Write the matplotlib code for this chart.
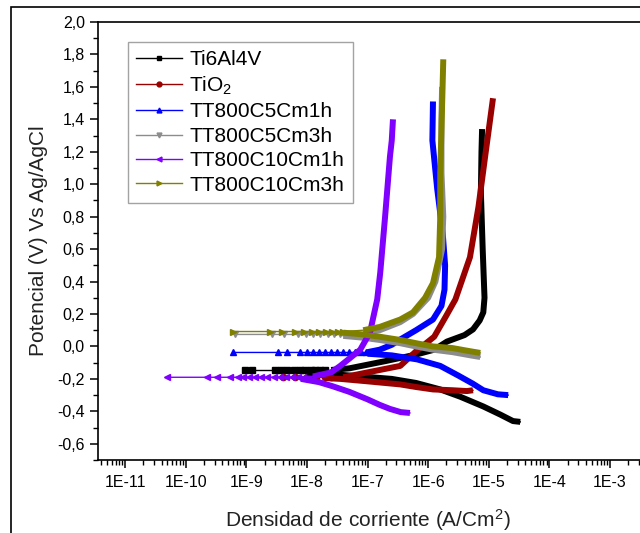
import numpy as np
import matplotlib
matplotlib.use("Agg")
import matplotlib.pyplot as plt
from matplotlib.lines import Line2D
from matplotlib.patches import Rectangle
from matplotlib.ticker import FixedLocator, FuncFormatter, MultipleLocator

plt.rcParams['font.family'] = ['Liberation Sans', 'DejaVu Sans']
plt.rcParams['mathtext.fontset'] = 'custom'
plt.rcParams['mathtext.rm'] = 'Liberation Sans'
plt.rcParams['mathtext.it'] = 'Liberation Sans:italic'

# ---------------- data (log10 of current density, potential in V) ----------------
labels = ["Ti6Al4V", "TiO$_2$", "TT800C5Cm1h", "TT800C5Cm3h", "TT800C10Cm1h", "TT800C10Cm3h"]
colors = ["#000000", "#990000", "#0000FF", "#8C8C8C", "#8000FF", "#808000"]
markers = ["s", "o", "^", "v", "<", ">"]

# Ti6Al4V
ti_cath_logi = [-4.48, -4.60, -4.81, -5.09, -5.47, -5.80, -6.20, -6.60, -7.10, -7.60, -8.00]
ti_cath_e    = [-0.465, -0.46, -0.42, -0.37, -0.31, -0.265, -0.225, -0.20, -0.185, -0.17, -0.16]
ti_corr_logi = [-9.02, -8.90, -8.52, -8.42, -8.32, -8.22, -8.12, -8.03, -7.94, -7.86, -7.78, -7.70]
ti_corr_e    = [-0.145] * 12
ti_anod_logi = [-7.60, -7.30, -6.70, -6.20, -5.90, -5.69, -5.40, -5.26, -5.15, -5.09, -5.07, -5.10, -5.13, -5.12, -5.11]
ti_anod_e    = [-0.145, -0.135, -0.09, -0.05, -0.02, 0.03, 0.07, 0.105, 0.16, 0.21, 0.30, 0.60, 0.95, 1.20, 1.34]

# TiO2
tio_cath_logi = [-5.26, -5.36, -5.60, -5.92, -6.20, -6.46, -7.00, -7.45, -7.70]
tio_cath_e    = [-0.27, -0.275, -0.27, -0.265, -0.25, -0.234, -0.215, -0.20, -0.195]
tio_corr_logi = [-8.40, -8.20, -8.00, -7.85, -7.70, -7.60]
tio_corr_e    = [-0.19] * 6
tio_anod_logi = [-7.40, -7.00, -6.46, -6.20, -5.90, -5.70, -5.55, -5.31, -5.17, -5.06, -4.93]
tio_anod_e    = [-0.19, -0.16, -0.12, -0.03, 0.06, 0.19, 0.29, 0.55, 0.86, 1.17, 1.53]

# TT800C5Cm1h
c51_cath_logi = [-4.68, -4.85, -5.09, -5.26, -5.50, -5.80, -6.18, -6.60, -7.00]
c51_cath_e    = [-0.30, -0.295, -0.27, -0.23, -0.18, -0.12, -0.08, -0.055, -0.045]
c51_corr_logi = [-9.22, -8.48, -8.33, -8.11, -8.00, -7.90, -7.80, -7.70, -7.60, -7.50, -7.40,
                 -7.30, -7.20, -7.10, -7.02]
c51_corr_e    = [-0.037] * 15
c51_anod_logi = [-7.00, -6.80, -6.60, -6.46, -6.20, -5.92, -5.78, -5.73, -5.72, -5.76, -5.85, -5.93, -5.92]
c51_anod_e    = [-0.035, -0.02, 0.01, 0.043, 0.10, 0.166, 0.25, 0.35, 0.50, 0.70, 0.97, 1.27, 1.51]

# TT800C5Cm3h
c53_cath_logi = [-5.14, -5.30, -5.60, -5.92, -6.20, -6.46, -6.80, -7.10, -7.40]
c53_cath_e    = [-0.065, -0.055, -0.035, -0.02, 0.00, 0.02, 0.04, 0.055, 0.065]
c53_corr_logi = [-9.18, -8.58, -8.38, -8.15, -8.02, -7.90, -7.78, -7.65, -7.55, -7.45]
c53_corr_e    = [0.074] * 10
c53_anod_logi = [-7.07, -6.80, -6.46, -6.25, -6.00, -5.88, -5.77, -5.75, -5.78, -5.78, -5.77]
c53_anod_e    = [0.08, 0.10, 0.15, 0.20, 0.30, 0.40, 0.60, 0.80, 1.07, 1.40, 1.60]

# TT800C10Cm1h
c101_cath_logi = [-6.30, -6.45, -6.63, -6.80, -7.00, -7.30, -7.57, -7.80, -8.10]
c101_cath_e    = [-0.41, -0.405, -0.385, -0.36, -0.326, -0.28, -0.246, -0.22, -0.20]
c101_corr_logi = [-10.31, -9.65, -9.48, -9.27, -9.14, -9.05, -8.95, -8.85, -8.75, -8.65, -8.55,
                  -8.45, -8.35, -8.25, -8.15, -8.05, -7.98]
c101_corr_e    = [-0.19] * 17
c101_anod_logi = [-7.90, -7.60, -7.45, -7.25, -7.12, -6.96, -6.84, -6.79, -6.71, -6.63, -6.60, -6.58]
c101_anod_e    = [-0.185, -0.16, -0.12, -0.06, -0.02, 0.085, 0.29, 0.455, 0.80, 1.17, 1.27, 1.40]

# TT800C10Cm3h
c103_cath_logi = [-5.14, -5.30, -5.60, -5.92, -6.20, -6.46, -6.80, -7.10, -7.40]
c103_cath_e    = [-0.04, -0.03, -0.01, 0.00, 0.02, 0.04, 0.06, 0.075, 0.085]
c103_corr_logi = [-9.22, -8.61, -8.41, -8.19, -8.05, -7.92, -7.80, -7.68, -7.58, -7.48, -7.40]
c103_corr_e    = [0.092] * 11
c103_anod_logi = [-7.07, -6.80, -6.46, -6.25, -6.05, -5.92, -5.82, -5.80, -5.80, -5.77, -5.75]
c103_anod_e    = [0.10, 0.12, 0.166, 0.21, 0.30, 0.39, 0.55, 0.80, 1.07, 1.48, 1.77]

series = [
    (ti_cath_logi, ti_cath_e, ti_corr_logi, ti_corr_e, ti_anod_logi, ti_anod_e),
    (tio_cath_logi, tio_cath_e, tio_corr_logi, tio_corr_e, tio_anod_logi, tio_anod_e),
    (c51_cath_logi, c51_cath_e, c51_corr_logi, c51_corr_e, c51_anod_logi, c51_anod_e),
    (c53_cath_logi, c53_cath_e, c53_corr_logi, c53_corr_e, c53_anod_logi, c53_anod_e),
    (c101_cath_logi, c101_cath_e, c101_corr_logi, c101_corr_e, c101_anod_logi, c101_anod_e),
    (c103_cath_logi, c103_cath_e, c103_corr_logi, c103_corr_e, c103_anod_logi, c103_anod_e),
]

xtick_exps = [-11, -10, -9, -8, -7, -6, -5, -4, -3, -2]

# ---------------- figure ----------------
W, H = 640, 533
fig = plt.figure(figsize=(6.4, 5.33), dpi=100)
ax_l, ax_r, ax_t, ax_b = 98, 642, 22, 460
ax = fig.add_axes([ax_l / W, (H - ax_b) / H, (ax_r - ax_l) / W, (ax_b - ax_t) / H])

for (cl, ce, rl, re_, al, ae), col, mk in zip(series, colors, markers):
    cl = np.power(10.0, cl); rl = np.power(10.0, rl); al = np.power(10.0, al)
    ax.plot(np.concatenate([rl, al[:1]]), np.concatenate([re_, ae[:1]]),
            color=col, lw=1.0, marker=mk, ms=4.5, markevery=list(range(len(rl))), zorder=2)
    ax.plot(np.concatenate([rl[-1:], cl[::-1]]), np.concatenate([re_[-1:], ce[::-1]]),
            color=col, lw=1.0, zorder=2)
    ax.plot(cl, ce, color=col, lw=4.3, solid_capstyle='butt', solid_joinstyle='round', zorder=3)
    ax.plot(al, ae, color=col, lw=4.3, solid_capstyle='butt', solid_joinstyle='round', zorder=3)

ax.set_xscale('log')
ax.set_xlim(10 ** -11.446, 10 ** -2.472)
ax.set_ylim(-0.7, 2.0)

ax.xaxis.set_major_locator(FixedLocator([10.0 ** e for e in xtick_exps]))
ax.xaxis.set_major_formatter(FuncFormatter(lambda v, p: "1E%d" % round(np.log10(v))))
ax.yaxis.set_major_locator(FixedLocator(np.round(np.arange(-0.6, 2.01, 0.2), 1)))
ax.yaxis.set_minor_locator(MultipleLocator(0.1))
ax.yaxis.set_major_formatter(FuncFormatter(lambda v, p: ("%.1f" % v).replace('.', ',')))

ax.tick_params(which='major', direction='out', length=6, width=1.1, labelsize=11.5, pad=3.5, colors='black')
ax.tick_params(which='minor', direction='out', length=3.5, width=1.0)
ax.tick_params(axis='x', which='major', pad=4.5)
ax.tick_params(top=False, right=False)
for s in ax.spines.values():
    s.set_linewidth(1.2)

ax.set_xlabel("Densidad de corriente (A/Cm$^2$)", fontsize=15, color='#222222')
ax.set_ylabel("Potencial (V) Vs Ag/AgCl", fontsize=15, color='#222222')
axw = ax_r - ax_l; axh = ax_b - ax_t
ax.xaxis.set_label_coords((368 - ax_l) / axw, (ax_b - 507) / axh)
ax.yaxis.set_label_coords((48 - ax_l) / axw, 0.5)

handles = [Line2D([], [], color=c, lw=1.0, marker=m, ms=3.5) for c, m in zip(colors, markers)]
leg = ax.legend(handles, labels, loc='upper left', bbox_to_anchor=(128 / W, (H - 42) / H),
                bbox_transform=fig.transFigure, fontsize=15, frameon=True, fancybox=False,
                edgecolor='#8c8c8c', handlelength=2.2, handletextpad=0.35, labelspacing=0.26,
                borderpad=0.4, borderaxespad=0.0, numpoints=1)
leg.get_frame().set_linewidth(1.0)

fig.add_artist(Rectangle((11 / W, -0.2), 2.0, (H - 7) / H + 0.2, transform=fig.transFigure,
                         fill=False, ec='black', lw=1.2))

fig.savefig("out.png", dpi=100)
